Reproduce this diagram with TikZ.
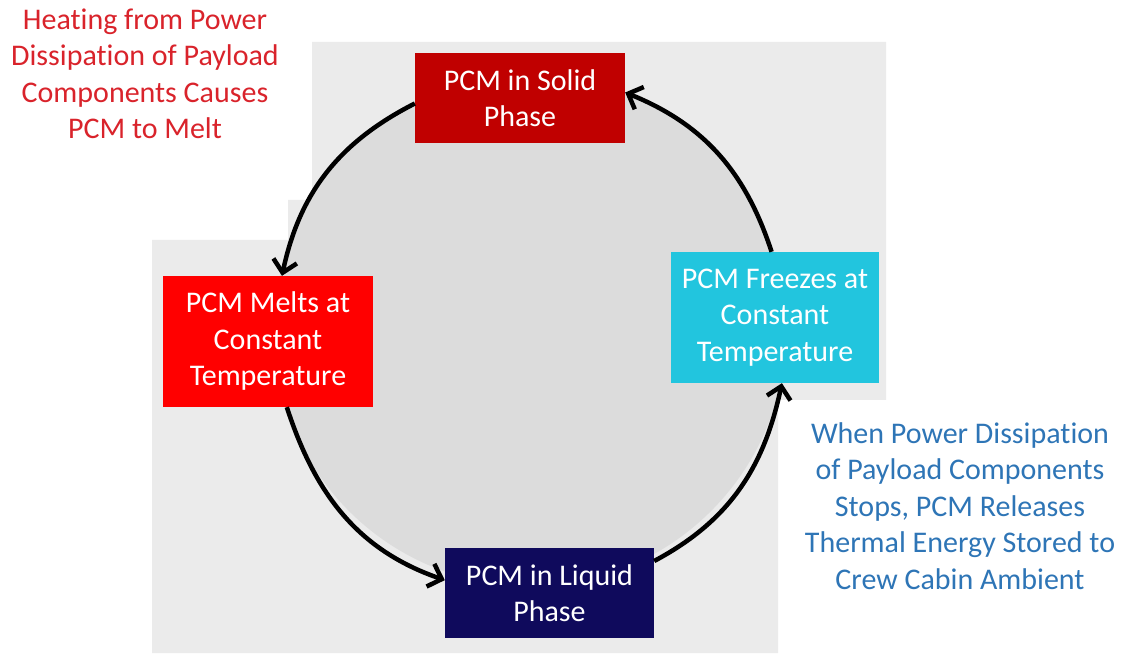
\documentclass[tikz,border=0pt]{standalone}
\usepackage{fontspec}
\setmainfont{Carlito}[Ligatures=NoCommon]
\usepackage{tikz}
\usetikzlibrary{arrows.meta}
\definecolor{panelgray}{HTML}{EBEBEB}
\definecolor{ringgray}{HTML}{DCDCDC}
\definecolor{solidred}{HTML}{C00000}
\definecolor{meltred}{HTML}{FF0000}
\definecolor{freezecyan}{HTML}{22C5DE}
\definecolor{liquidnavy}{HTML}{0F0A5C}
\definecolor{heatred}{HTML}{D9232B}
\definecolor{releaseblue}{HTML}{2E75B6}

\begin{document}
\begin{tikzpicture}[
    x=1pt, y=1pt,
    font=\fontsize{30}{36.5}\selectfont,
    phase/.style={text=white, inner sep=0pt, align=center,
      minimum width=210pt, minimum height=90pt},
    solidphase/.style={phase, fill=solidred},
    meltphase/.style={phase, fill=meltred, minimum height=131pt},
    freezephase/.style={phase, fill=freezecyan, minimum width=208pt,
      minimum height=131pt},
    liquidphase/.style={phase, fill=liquidnavy, minimum width=209pt},
    note/.style={inner sep=0pt, align=center},
    flow/.style={-{Straight Barb[length=12pt,width=24pt]}, line width=4.5pt,
      black}
  ]
    \useasboundingbox (0,0) rectangle (1123,653);
    % backdrop
    \fill[panelgray] (312,611) -- (886,611) -- (886,253) -- (778,253)
      -- (778,0) -- (152,0) -- (152,413) -- (288,413) -- (288,453)
      -- (312,453) -- cycle;
    \fill[ringgray] (530,323) circle[radius=256];

    \node[solidphase] (solid) at (520,555) {PCM in Solid\\Phase};
    \node[meltphase] (melt) at (268,311.5)
      {PCM Melts at\\Constant\\Temperature};
    \node[liquidphase] (liquid) at (549.5,60) {PCM in Liquid\\Phase};
    \node[freezephase] (freeze) at (775,335.5)
      {PCM Freezes at\\Constant\\Temperature};

    \node[note, text=heatred] (heat) at (145,579)
      {Heating from Power\\Dissipation of Payload\\Components Causes\\PCM to Melt};
    \node[note, text=releaseblue] (release) at (960,147)
      {When Power Dissipation\\of Payload Components\\Stops, PCM Releases\\Thermal Energy Stored to\\Crew Cabin Ambient};

    \draw[flow] (solid.183) to[out=207, in=78] (melt.78);
    \draw[flow] (melt.-74) to[out=288, in=161] (liquid.173);
    \draw[flow] (liquid.17) to[out=28, in=258] (freeze.-84);
    \draw[flow] (freeze.93) to[out=108, in=338] (solid.3);
  \end{tikzpicture}
\end{document}
